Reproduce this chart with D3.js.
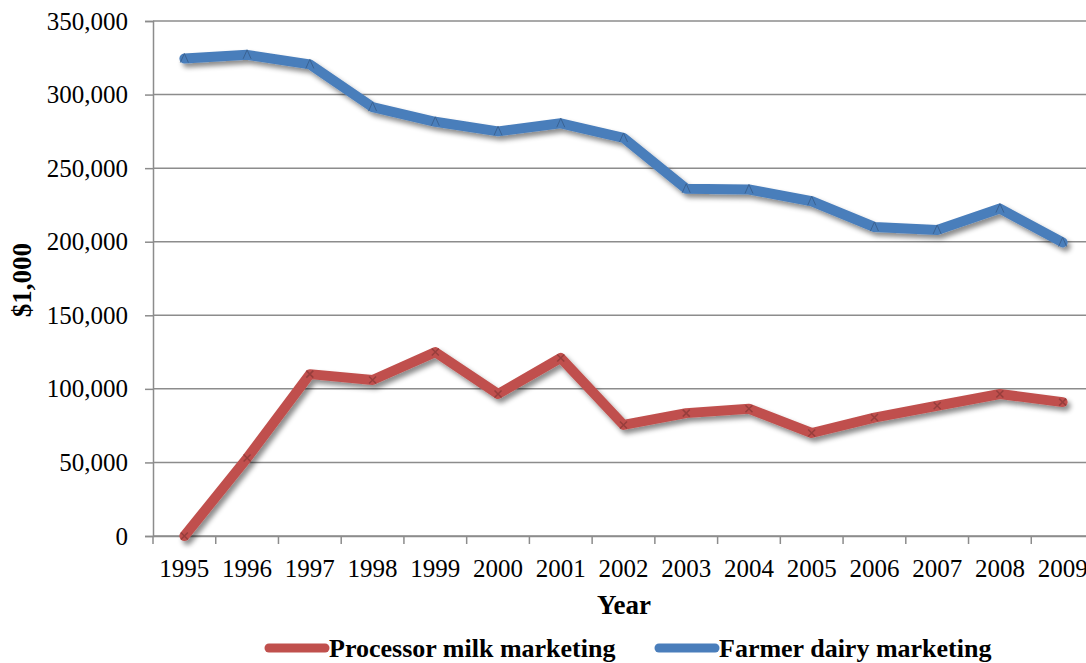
<!DOCTYPE html>
<html>
<head>
<meta charset="utf-8">
<script src="https://cdn.jsdelivr.net/npm/d3@7"></script>
<style>
    body { margin: 0; background: #fff; }
    svg { display: block; font-family: "Liberation Serif", "DejaVu Serif", serif; }
</style>
</head>
<body>
<svg id="chart" width="1086" height="663"></svg>
<script>
const years = ["1995", "1996", "1997", "1998", "1999", "2000", "2001", "2002",
    "2003", "2004", "2005", "2006", "2007", "2008", "2009"];
const processorMilk = [0, 53000, 110000, 106000, 125000, 96500, 121000, 75500,
    83500, 86500, 70000, 80500, 88500, 96500, 91000];
const farmerDairy = [324500, 327000, 320500, 291500, 281500, 275000, 280500, 270500,
    236000, 235500, 227500, 210000, 208000, 222500, 199500];
const yTicks = [0, 50000, 100000, 150000, 200000, 250000, 300000, 350000];

const series = [
    {name: "Processor milk marketing", values: processorMilk, color: "#c0504d", marker: "x"},
    {name: "Farmer dairy marketing", values: farmerDairy, color: "#4a7ebb", marker: "tri"},
];

let svg = d3.select("#chart");
let margin = {top: 21, left: 153, bottom: 127};
let plotW = 941;
let height = +svg.attr("height") - margin.top - margin.bottom;

let defs = svg.append("defs");
let shadow = defs.append("filter")
    .attr("id", "shadow")
    .attr("x", "-10%").attr("y", "-10%")
    .attr("width", "120%").attr("height", "130%");
shadow.append("feDropShadow")
    .attr("dx", 3).attr("dy", 4)
    .attr("stdDeviation", 2.5)
    .attr("flood-color", "#000")
    .attr("flood-opacity", 0.45);

let x_scale = d3.scaleBand()
    .domain(years)
    .range([0, plotW]);

let y_scale = d3.scaleLinear()
    .domain([0, 350000])
    .range([height, 0]);

let g = svg.append("g")
    .attr("transform", `translate(${margin.left},${margin.top})`);

// gridlines
g.append("g")
    .selectAll("line")
    .data(yTicks)
    .join("line")
    .attr("x1", 0)
    .attr("x2", plotW)
    .attr("y1", d => y_scale(d))
    .attr("y2", d => y_scale(d))
    .attr("stroke", "#8c8c8c")
    .attr("stroke-width", 1.5);

// y axis
let yAxis = g.append("g")
    .call(d3.axisLeft(y_scale).tickValues(yTicks).tickSize(8).tickPadding(17)
        .tickFormat(d3.format(",")));
yAxis.attr("font-family", null).attr("font-size", null);
yAxis.selectAll("text")
    .attr("font-size", "25px")
    .attr("fill", "#000");
yAxis.selectAll("line").attr("stroke", "#8c8c8c").attr("stroke-width", 1.5);
yAxis.select(".domain").attr("stroke", "#8c8c8c").attr("stroke-width", 1.5);

// x axis
let xAxis = g.append("g")
    .attr("transform", `translate(0,${height})`)
    .call(d3.axisBottom(x_scale).tickSize(0).tickPadding(23));
xAxis.attr("font-family", null).attr("font-size", null);
xAxis.selectAll("text")
    .attr("font-size", "25px")
    .attr("fill", "#000");
xAxis.select(".domain").attr("stroke", "#8c8c8c").attr("stroke-width", 1.5);
// tick marks between categories
xAxis.append("g")
    .selectAll("line")
    .data(years.concat(["end"]))
    .join("line")
    .attr("x1", (d, i) => i * x_scale.bandwidth())
    .attr("x2", (d, i) => i * x_scale.bandwidth())
    .attr("y1", 0)
    .attr("y2", 8)
    .attr("stroke", "#8c8c8c")
    .attr("stroke-width", 1.5);

// lines
let line = d3.line()
    .x((d, i) => x_scale(years[i]) + x_scale.bandwidth() / 2)
    .y(d => y_scale(d));

series.forEach(s => {
    let sg = g.append("g").attr("filter", "url(#shadow)");
    sg.append("path")
        .datum(s.values)
        .attr("d", line)
        .attr("fill", "none")
        .attr("stroke", s.color)
        .attr("stroke-width", 10)
        .attr("stroke-linejoin", "round")
        .attr("stroke-linecap", "round");

    // small markers
    s.values.forEach((v, i) => {
        let cx = x_scale(years[i]) + x_scale.bandwidth() / 2;
        let cy = y_scale(v);
        if (s.marker === "tri") {
            g.append("path")
                .attr("d", `M${cx - 4},${cy + 4}L${cx},${cy - 5}L${cx + 4},${cy + 4}`)
                .attr("fill", "none")
                .attr("stroke", d3.color(s.color).darker(0.7))
                .attr("stroke-width", 1);
        } else {
            g.append("path")
                .attr("d", `M${cx - 3.5},${cy - 3.5}L${cx + 3.5},${cy + 3.5}M${cx - 3.5},${cy + 3.5}L${cx + 3.5},${cy - 3.5}`)
                .attr("stroke", d3.color(s.color).darker(0.7))
                .attr("stroke-width", 1.5);
        }
    });
});

// x label
svg.append("text")
    .attr("x", 624)
    .attr("y", 614)
    .attr("text-anchor", "middle")
    .attr("font-size", "27px")
    .attr("font-weight", "bold")
    .text("Year");

// y label
svg.append("text")
    .attr("transform", "translate(31,280) rotate(-90)")
    .attr("text-anchor", "middle")
    .attr("font-size", "27px")
    .attr("font-weight", "bold")
    .text("$1,000");

// legend
let legendPos = [265, 655];
series.forEach((s, i) => {
    let lg = svg.append("g").attr("transform", `translate(${legendPos[i]},648)`);
    lg.append("line")
        .attr("x1", 4).attr("x2", 60)
        .attr("y1", 0).attr("y2", 0)
        .attr("stroke", s.color)
        .attr("stroke-width", 9)
        .attr("stroke-linecap", "round");
    lg.append("text")
        .attr("x", 64)
        .attr("y", 9)
        .attr("font-size", "26px")
        .attr("font-weight", "bold")
        .text(s.name);
});
</script>
</body>
</html>
